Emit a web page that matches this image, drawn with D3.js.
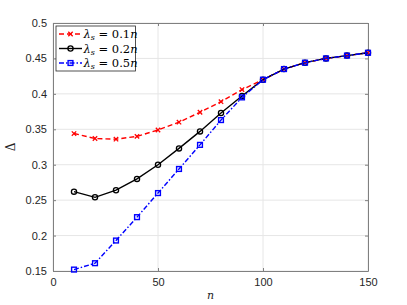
<!DOCTYPE html>
<html><head><meta charset="utf-8">
<script src="https://cdn.jsdelivr.net/npm/d3@7"></script>
<style>body{margin:0;background:#fff;} svg{display:block;}</style>
</head><body><div id="chart"></div>
<script>
const nValues = [10,20,30,40,50,60,70,80,90,100,110,120,130,140,150];
const seriesRed   = [0.344,0.337,0.336,0.340,0.349,0.360,0.374,0.389,0.406,0.420,0.435,0.444,0.450,0.454,0.458];
const seriesBlack = [0.262,0.254,0.264,0.280,0.300,0.323,0.347,0.373,0.397,0.420,0.435,0.444,0.450,0.454,0.458];
const seriesBlue  = [0.152,0.161,0.193,0.226,0.260,0.294,0.328,0.363,0.395,0.420,0.435,0.444,0.450,0.454,0.458];
const xTicks = [0,50,100,150];
const yTicks = [0.15,0.2,0.25,0.3,0.35,0.4,0.45,0.5];
const legendCoef = ["0.1","0.2","0.5"];

const W=407,H=305;
const m={l:53,r:368,t:23,b:271};
const svg=d3.select("#chart").append("svg").attr("width",W).attr("height",H);
const x=d3.scaleLinear().domain([0,150]).range([m.l,m.r]);
const y=d3.scaleLinear().domain([0.15,0.5]).range([m.b,m.t]);

// grid
const g=svg.append("g");
g.selectAll(".gx").data(xTicks).enter().append("line")
 .attr("x1",d=>x(d)).attr("x2",d=>x(d)).attr("y1",m.t).attr("y2",m.b)
 .attr("stroke","#e6e6e6").attr("stroke-width",1);
g.selectAll(".gy").data(yTicks).enter().append("line")
 .attr("y1",d=>y(d)).attr("y2",d=>y(d)).attr("x1",m.l).attr("x2",m.r)
 .attr("stroke","#e6e6e6").attr("stroke-width",1);

// axes
const axCol="#808080";
const xa=svg.append("g").attr("transform",`translate(0,${m.b})`)
 .call(d3.axisBottom(x).tickValues(xTicks).tickSizeInner(-3).tickSizeOuter(0).tickPadding(7).tickFormat(d3.format("d")));
const xt=svg.append("g").attr("transform",`translate(0,${m.t})`)
 .call(d3.axisTop(x).tickValues(xTicks).tickSizeInner(-3).tickSizeOuter(0).tickFormat(""));
const ya=svg.append("g").attr("transform",`translate(${m.l},0)`)
 .call(d3.axisLeft(y).tickValues(yTicks).tickSizeInner(-3).tickSizeOuter(0).tickPadding(6).tickFormat(d=>String(+d.toFixed(2))));
const yr=svg.append("g").attr("transform",`translate(${m.r},0)`)
 .call(d3.axisRight(y).tickValues(yTicks).tickSizeInner(-3).tickSizeOuter(0).tickFormat(""));
[xa,xt,ya,yr].forEach(a=>{
  a.selectAll("path").attr("stroke",axCol);
  a.selectAll("line").attr("stroke",axCol);
  a.selectAll("text").attr("fill","#262626").style("font-family","Liberation Sans, Arial, sans-serif").style("font-size","11px");
});

// labels
svg.append("text").attr("x",(m.l+m.r)/2).attr("y",299).attr("text-anchor","middle")
 .style("font-family","DejaVu Serif, serif").style("font-style","italic").style("font-size","11px").attr("fill","#262626").text("n");
svg.append("text").attr("transform",`translate(15,${(m.t+m.b)/2}) rotate(-90)`).attr("text-anchor","middle")
 .style("font-family","DejaVu Serif, serif").style("font-size","12px").attr("fill","#262626").text("Δ");

const mk=(arr)=>nValues.map((n,i)=>({n,v:arr[i]}));
const line=d3.line().x(d=>x(d.n)).y(d=>y(d.v));
const series=[
 {data:mk(seriesRed),color:"#ff0000",dash:"5,3",marker:"x"},
 {data:mk(seriesBlack),color:"#000000",dash:null,marker:"o"},
 {data:mk(seriesBlue),color:"#0000ff",dash:"5,2,1.5,2",marker:"s"}
];
function drawMarker(sel,type,color,cx,cy){
  if(type==="x"){
    const s=2.2;
    sel.append("path").attr("d",`M${cx-s},${cy-s}L${cx+s},${cy+s}M${cx-s},${cy+s}L${cx+s},${cy-s}`)
      .attr("stroke",color).attr("stroke-width",1.3).attr("fill","none");
  } else if(type==="o"){
    sel.append("circle").attr("cx",cx).attr("cy",cy).attr("r",2.6)
      .attr("stroke",color).attr("stroke-width",1.3).attr("fill","none");
  } else {
    sel.append("rect").attr("x",cx-2.4).attr("y",cy-2.4).attr("width",4.8).attr("height",4.8)
      .attr("stroke",color).attr("stroke-width",1.4).attr("fill","none");
  }
}
series.forEach(s=>{
  const p=svg.append("path").datum(s.data).attr("d",line).attr("fill","none")
   .attr("stroke",s.color).attr("stroke-width",1.4);
  if(s.dash) p.attr("stroke-dasharray",s.dash);
  const mg=svg.append("g");
  s.data.forEach(d=>drawMarker(mg,s.marker,s.color,x(d.n),y(d.v)));
});

// legend
const lg=svg.append("g");
lg.append("rect").attr("x",56).attr("y",26).attr("width",79.5).attr("height",45)
 .attr("fill","#fff").attr("stroke","#262626").attr("stroke-width",0.8);
series.forEach((s,i)=>{
  const cy=34+i*14.5;
  const l=lg.append("line").attr("x1",59).attr("x2",82).attr("y1",cy).attr("y2",cy)
   .attr("stroke",s.color).attr("stroke-width",1.4);
  if(s.dash) l.attr("stroke-dasharray",s.dash);
  drawMarker(lg,s.marker,s.color,70.5,cy);
  const t=lg.append("text").attr("x",83.5).attr("y",cy+4)
   .style("font-family","DejaVu Serif, serif").style("font-size","11.5px").attr("fill","#000");
  t.append("tspan").style("font-style","italic").text("λ");
  t.append("tspan").style("font-style","italic").style("font-size","8px").attr("dy",2).text("s");
  t.append("tspan").attr("dy",-2).text(" = "+legendCoef[i]);
  t.append("tspan").style("font-style","italic").text("n");
});
</script></body></html>
